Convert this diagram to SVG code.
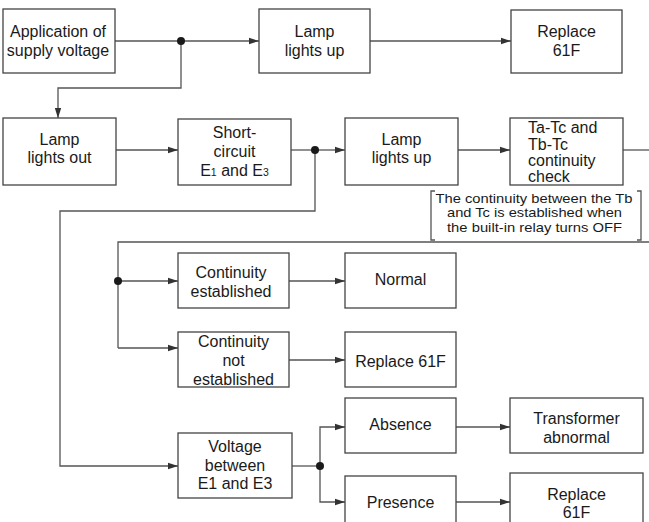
<svg xmlns="http://www.w3.org/2000/svg" width="649" height="522" viewBox="0 0 649 522">
<defs>
<marker id="ah" viewBox="0 0 10 8" refX="10" refY="4" markerWidth="10" markerHeight="8" markerUnits="userSpaceOnUse" orient="auto">
<path d="M0,0.8 L10,4 L0,7.2 Z" fill="#333"/>
</marker>
<style>
.box{fill:#fff;stroke:#444;stroke-width:1.3}
.t{font-family:"Liberation Sans",Arial,sans-serif;font-size:16px;fill:#1a1a1a;text-anchor:middle}
.l{text-anchor:start}
.n{font-family:"Liberation Sans",Arial,sans-serif;font-size:13.5px;fill:#1a1a1a;text-anchor:middle}
.c{fill:none;stroke:#555;stroke-width:1.3}
.a{marker-end:url(#ah)}
.d{fill:#1a1a1a}
</style>
</defs>
<rect width="649" height="522" fill="#fff"/>
<g id="connectors">
<path class="c" d="M115,41 H181"/>
<path class="c a" d="M181,41 H259"/>
<path class="c a" d="M370,41 H511"/>
<path class="c a" d="M181,41 V88 H58 V118"/>
<path class="c a" d="M116,150 H178"/>
<path class="c" d="M291,150 H315"/>
<path class="c a" d="M315,150 H345"/>
<path class="c a" d="M315,150 V211 H60 V466 H178"/>
<path class="c a" d="M458,150 H510"/>
<path class="c" d="M623,150 H649"/>
<path class="c" d="M649,242 H118 V348"/>
<path class="c a" d="M118,281 H178"/>
<path class="c a" d="M118,348 H178"/>
<path class="c a" d="M289,281 H345"/>
<path class="c a" d="M289,360 H345"/>
<path class="c" d="M292,466 H320"/>
<path class="c a" d="M320,466 V427 H345"/>
<path class="c a" d="M320,466 V502 H345"/>
<path class="c a" d="M456,427 H510"/>
<path class="c a" d="M456,502 H510"/>
<circle class="d" cx="181" cy="41" r="4"/>
<circle class="d" cx="315" cy="150" r="4"/>
<circle class="d" cx="118" cy="281" r="4"/>
<circle class="d" cx="320" cy="466" r="4"/>
</g>
<g id="n1"><rect class="box" x="3" y="9" width="112" height="64"/>
<text class="t" x="58" y="37">Application of</text><text class="t" x="58" y="56">supply voltage</text></g>
<g id="n2"><rect class="box" x="259" y="9" width="111" height="64"/>
<text class="t" x="314.5" y="37">Lamp</text><text class="t" x="314.5" y="56">lights up</text></g>
<g id="n3"><rect class="box" x="511" y="10" width="111" height="63"/>
<text class="t" x="566.5" y="37">Replace</text><text class="t" x="566.5" y="56">61F</text></g>
<g id="n4"><rect class="box" x="3" y="118" width="113" height="67"/>
<text class="t" x="59.5" y="145">Lamp</text><text class="t" x="59.5" y="163">lights out</text></g>
<g id="n5"><rect class="box" x="178" y="119" width="113" height="66"/>
<text class="t" x="234.5" y="138">Short-</text><text class="t" x="234.5" y="157">circuit</text>
<text class="t" x="234.5" y="176">E<tspan font-size="10.5">1</tspan> and E<tspan font-size="10.5">3</tspan></text></g>
<g id="n6"><rect class="box" x="345" y="118" width="113" height="67"/>
<text class="t" x="401.5" y="145">Lamp</text><text class="t" x="401.5" y="163">lights up</text></g>
<g id="n7"><rect class="box" x="510" y="118" width="113" height="67"/>
<text class="t l" x="528" y="133">Ta-Tc and</text><text class="t l" x="528" y="150">Tb-Tc</text>
<text class="t l" x="528" y="166">continuity</text><text class="t l" x="528" y="182">check</text></g>
<g id="note">
<path class="c" d="M435,191 H431 V240 H435 M637,191 H641 V240 H637"/>
<text class="n" x="534" y="203" textLength="197" lengthAdjust="spacingAndGlyphs">The continuity between the Tb</text>
<text class="n" x="534.5" y="217" textLength="175" lengthAdjust="spacingAndGlyphs">and Tc is established when</text>
<text class="n" x="534.5" y="231.5" textLength="175" lengthAdjust="spacingAndGlyphs">the built-in relay turns OFF</text>
</g>
<g id="n8"><rect class="box" x="178" y="253" width="111" height="55"/>
<text class="t" x="231" y="278">Continuity</text><text class="t" x="231" y="297">established</text></g>
<g id="n9"><rect class="box" x="345" y="253" width="111" height="55"/>
<text class="t" x="400.5" y="285">Normal</text></g>
<g id="n10"><rect class="box" x="178" y="332" width="111" height="55"/>
<text class="t" x="233.5" y="347">Continuity</text><text class="t" x="233.5" y="366">not</text><text class="t" x="233.5" y="385">established</text></g>
<g id="n11"><rect class="box" x="345" y="332" width="111" height="55"/>
<text class="t" x="400.5" y="367">Replace 61F</text></g>
<g id="n12"><rect class="box" x="178" y="433" width="114" height="65"/>
<text class="t" x="235" y="452">Voltage</text><text class="t" x="235" y="471">between</text><text class="t" x="235" y="489">E1 and E3</text></g>
<g id="n13"><rect class="box" x="345" y="398" width="111" height="55"/>
<text class="t" x="400.5" y="430">Absence</text></g>
<g id="n14"><rect class="box" x="510" y="398" width="133" height="55"/>
<text class="t" x="576.5" y="424">Transformer</text><text class="t" x="576.5" y="443">abnormal</text></g>
<g id="n15"><rect class="box" x="345" y="476" width="111" height="60"/>
<text class="t" x="400.5" y="508">Presence</text></g>
<g id="n16"><rect class="box" x="510" y="473" width="133" height="60"/>
<text class="t" x="576.5" y="500">Replace</text><text class="t" x="576.5" y="518">61F</text></g>
</svg>
